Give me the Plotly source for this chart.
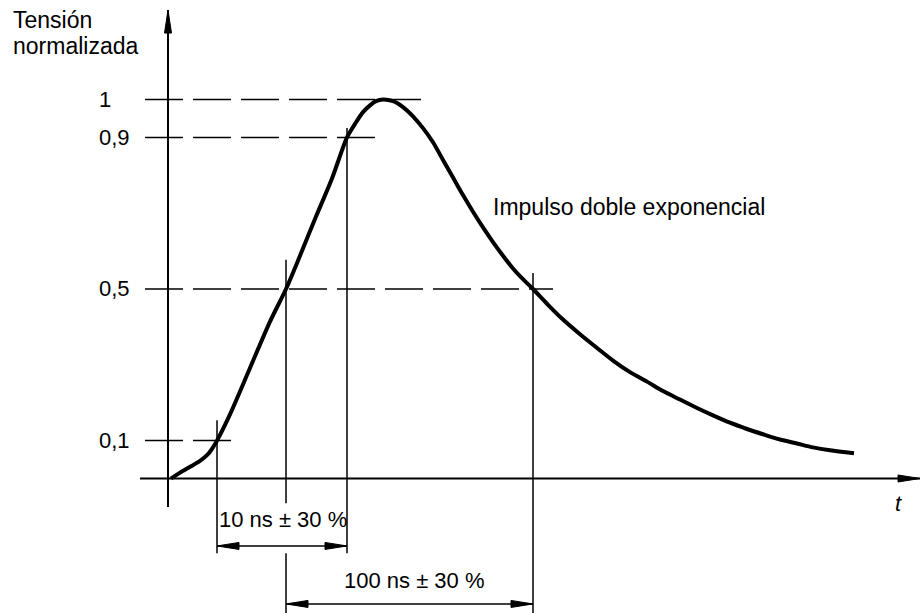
import plotly.graph_objects as go

# ---- data (t in arbitrary drawing units, V normalised) ----
t_curve = [0, 9, 19, 29, 37, 42, 46, 59, 79, 99, 115, 129, 145, 161, 176, 184, 192, 199,
           205, 212, 222, 232, 242, 252, 262, 272, 282, 292, 302, 312, 322, 332, 342, 352,
           362, 377, 392, 409, 426, 442, 459, 476, 492, 509, 526, 542, 559, 576, 592, 609,
           626, 642, 659, 683]
v_curve = [0.0, 0.0154, 0.0308, 0.0462, 0.0641, 0.0821, 0.1, 0.1694, 0.2917, 0.4139, 0.5,
           0.5877, 0.691, 0.7916, 0.9, 0.9356, 0.9667, 0.9844, 0.9956, 1.0, 0.9956, 0.98,
           0.9556, 0.9244, 0.8871, 0.8406, 0.7942, 0.7477, 0.7039, 0.6626, 0.6239, 0.5877,
           0.5542, 0.5258, 0.5, 0.4583, 0.4194, 0.3806, 0.3444, 0.3111, 0.2806, 0.2556,
           0.2306, 0.2083, 0.1861, 0.1667, 0.1472, 0.1306, 0.1167, 0.1028, 0.0923, 0.0821,
           0.0744, 0.0667]

levels = [1.0, 0.9, 0.5, 0.1]
level_labels = ["1", "0,9", "0,5", "0,1"]

cross_t = [46, 115, 176, 362]          # 10 % rise, 50 % rise, 90 % rise, 50 % fall
rise_label = "10 ns ± 30 %"
width_label = "100 ns ± 30 %"
curve_label = "Impulso doble exponencial"
y_title = ["Tensión", "normalizada"]
x_title = "t"

# ---- drawing geometry ----
W, H = 921, 613
X_RANGE = [-171, 750]
Y_RANGE = [-0.3549, 1.2625]
PX_X = (X_RANGE[1] - X_RANGE[0]) / W      # data units per pixel
PX_Y = (Y_RANGE[1] - Y_RANGE[0]) / H
dash_start = -26
dash_end = [250, 205, 382, 70]
vert_top = [0.154, 0.577, 0.925, 0.542]
vert_bot = [-0.197, -0.065, -0.197, -0.355]
dim_rise_v = -0.178
dim_width_v = -0.331
yaxis_t = -3
yaxis_v = [-0.075, 1.236]
xaxis_t = [-31, 749]

FONT = "Liberation Sans, Arial, sans-serif"
FS = 22
BLACK = "#000000"

fig = go.Figure()


def seg(x, y, w=1.5, dash=None):
    fig.add_trace(go.Scatter(x=x, y=y, mode="lines",
                             line=dict(color=BLACK, width=w, dash=dash),
                             hoverinfo="skip", showlegend=False))


def head(tx, ty, direction, length=22, half=3.5):
    """filled slim arrowhead with its tip at (tx, ty)"""
    if direction in ("left", "right"):
        s = -1 if direction == "right" else 1
        bx = tx + s * length * PX_X
        xs = [tx, bx, bx, tx]
        ys = [ty, ty + half * PX_Y, ty - half * PX_Y, ty]
    else:
        by = ty - length * PX_Y
        xs = [tx, tx + half * PX_X, tx - half * PX_X, tx]
        ys = [ty, by, by, ty]
    fig.add_trace(go.Scatter(x=xs, y=ys, mode="lines", fill="toself", fillcolor=BLACK,
                             line=dict(color=BLACK, width=1), hoverinfo="skip",
                             showlegend=False))


# dashed level lines
for lv, de in zip(levels, dash_end):
    seg([dash_start, de], [lv, lv], 1.5, "38px,10px")

# vertical marker lines
for tc, top, bot in zip(cross_t, vert_top, vert_bot):
    seg([tc, tc], [top, bot])
seg([cross_t[1], cross_t[1]], [vert_bot[0], vert_bot[3]])

# axes
seg(xaxis_t, [0, 0], 2)
head(xaxis_t[1], 0, "right", 22, 3.5)
seg([yaxis_t, yaxis_t], yaxis_v, 2)
head(yaxis_t, yaxis_v[1], "up", 23, 3.5)

# dimension arrows
seg([cross_t[0], cross_t[2]], [dim_rise_v, dim_rise_v])
head(cross_t[0], dim_rise_v, "left")
head(cross_t[2], dim_rise_v, "right")
seg([cross_t[1], cross_t[3]], [dim_width_v, dim_width_v])
head(cross_t[1], dim_width_v, "left")
head(cross_t[3], dim_width_v, "right")

# pulse curve
fig.add_trace(go.Scatter(x=t_curve, y=v_curve, mode="lines",
                         line=dict(color=BLACK, width=4, shape="spline", smoothing=0.8),
                         hoverinfo="skip", showlegend=False))

ann = []
tf = dict(family=FONT, size=FS, color=BLACK)
for lv, lab in zip(levels, level_labels):
    ann.append(dict(x=-74, y=lv, xref="x", yref="y", text=lab, showarrow=False,
                    xanchor="left", yanchor="middle", font=tf))
ann.append(dict(x=(cross_t[0] + cross_t[2]) / 2 + 1, y=-0.1095, xref="x", yref="y", text=rise_label,
                showarrow=False, xanchor="center", yanchor="middle", font=tf))
ann.append(dict(x=(cross_t[1] + cross_t[3]) / 2 + 5, y=-0.2704, xref="x", yref="y", text=width_label,
                showarrow=False, xanchor="center", yanchor="middle", font=tf))
ann.append(dict(x=320, y=0.716, xref="x", yref="y", text=curve_label,
                showarrow=False, xanchor="left", yanchor="middle",
                font=dict(family=FONT, size=23, color=BLACK)))
ann.append(dict(x=727, y=-0.065, xref="x", yref="y", text="<i>" + x_title + "</i>",
                showarrow=False, xanchor="center", yanchor="middle", font=tf))
ann.append(dict(x=-160, y=1.209, xref="x", yref="y", text=y_title[0],
                showarrow=False, xanchor="left", yanchor="middle",
                font=dict(family=FONT, size=23, color=BLACK)))
ann.append(dict(x=-160, y=1.140, xref="x", yref="y", text=y_title[1],
                showarrow=False, xanchor="left", yanchor="middle",
                font=dict(family=FONT, size=23, color=BLACK)))

fig.update_layout(
    width=W, height=H, margin=dict(l=0, r=0, t=0, b=0),
    paper_bgcolor="white", plot_bgcolor="white",
    xaxis=dict(range=X_RANGE, visible=False, fixedrange=True),
    yaxis=dict(range=Y_RANGE, visible=False, fixedrange=True),
    annotations=ann, showlegend=False,
)
fig.write_html("out.html")
